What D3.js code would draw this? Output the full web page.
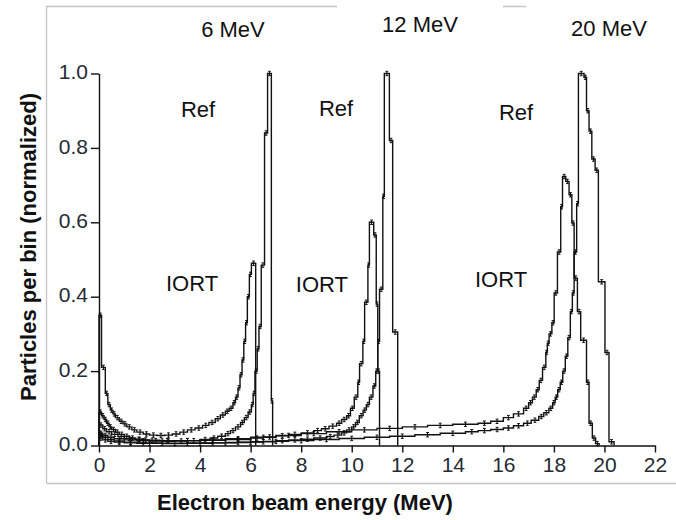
<!DOCTYPE html>
<html><head><meta charset="utf-8">
<script src="https://cdn.jsdelivr.net/npm/d3@7"></script>
<style>
html,body{margin:0;padding:0;background:#fff;}
svg{display:block;font-family:"Liberation Sans",Arial,sans-serif;}
</style></head>
<body>
<svg id="chart" width="676" height="520"></svg>
<script>
// ---- data: each series = [bin lower edge (MeV), normalized count]; last entry marks the upper edge ----
const ref6 = [[0,0.09],[0.1,0.08],[0.2,0.07],[0.3,0.06],[0.4,0.05],[0.5,0.043],[0.65,0.036],[0.8,0.03],[1.0,0.025],[1.2,0.02],[1.45,0.017],[1.7,0.015],[2.0,0.013],[2.5,0.012],[3.0,0.012],[3.5,0.013],[4.0,0.016],[4.4,0.02],[4.7,0.025],[5.0,0.032],[5.2,0.04],[5.4,0.05],[5.6,0.062],[5.75,0.075],[5.9,0.09],[6.03,0.11],[6.1,0.14],[6.17,0.2],[6.26,0.26],[6.33,0.32],[6.42,0.485],[6.55,0.84],[6.67,1.0],[6.82,0.12],[6.87,0]];
const iort6 = [[0,0.35],[0.1,0.21],[0.25,0.14],[0.35,0.11],[0.45,0.095],[0.55,0.085],[0.65,0.075],[0.8,0.065],[0.95,0.058],[1.1,0.05],[1.3,0.042],[1.5,0.036],[1.75,0.031],[2.0,0.028],[2.3,0.027],[2.6,0.028],[2.9,0.031],[3.2,0.036],[3.5,0.042],[3.8,0.047],[4.1,0.054],[4.35,0.062],[4.6,0.072],[4.8,0.082],[5.0,0.092],[5.15,0.1],[5.3,0.115],[5.4,0.13],[5.5,0.155],[5.58,0.19],[5.66,0.23],[5.73,0.28],[5.8,0.33],[5.87,0.4],[5.95,0.46],[6.03,0.49],[6.2,0]];
const ref12 = [[0,0.03],[0.15,0.022],[0.35,0.016],[0.6,0.012],[1.0,0.009],[1.5,0.007],[2.0,0.006],[3.0,0.006],[4.0,0.007],[5.0,0.008],[6.0,0.01],[7.0,0.013],[7.5,0.015],[8.0,0.017],[8.5,0.02],[9.0,0.024],[9.3,0.028],[9.6,0.034],[9.8,0.042],[10.0,0.05],[10.15,0.062],[10.3,0.08],[10.45,0.095],[10.58,0.11],[10.7,0.13],[10.84,0.16],[10.95,0.2],[11.03,0.28],[11.1,0.42],[11.23,0.67],[11.29,1.0],[11.49,0.82],[11.62,0.305],[11.82,0]];
const iort12 = [[0,0.055],[0.15,0.045],[0.3,0.037],[0.5,0.03],[0.75,0.024],[1.0,0.019],[1.4,0.016],[1.8,0.014],[2.4,0.013],[3.0,0.013],[4.0,0.014],[5.0,0.016],[6.0,0.02],[6.5,0.023],[7.0,0.026],[7.5,0.03],[8.0,0.034],[8.5,0.04],[8.8,0.045],[9.1,0.052],[9.4,0.06],[9.6,0.07],[9.8,0.08],[9.95,0.1],[10.1,0.13],[10.24,0.17],[10.31,0.22],[10.44,0.28],[10.51,0.385],[10.64,0.485],[10.7,0.6],[10.87,0.566],[10.97,0.38],[11.03,0.2],[11.1,0]];
const ref20 = [[0,0.02],[0.15,0.015],[0.35,0.011],[0.6,0.009],[1.0,0.007],[1.5,0.006],[2.5,0.005],[3.5,0.006],[4.5,0.007],[5.5,0.009],[6.5,0.011],[7.5,0.013],[8.5,0.016],[9.5,0.019],[10.5,0.022],[11.5,0.025],[12.5,0.029],[13.5,0.033],[14.5,0.037],[15.0,0.04],[15.5,0.043],[16.0,0.047],[16.4,0.053],[16.8,0.06],[17.1,0.068],[17.4,0.078],[17.6,0.088],[17.8,0.1],[17.95,0.115],[18.05,0.13],[18.15,0.15],[18.25,0.17],[18.35,0.2],[18.45,0.24],[18.55,0.29],[18.65,0.36],[18.73,0.41],[18.8,0.52],[18.9,0.65],[18.97,1.0],[19.19,0.99],[19.29,0.9],[19.39,0.845],[19.5,0.77],[19.63,0.74],[19.76,0.44],[20.02,0.25],[20.18,0.01],[20.38,0]];
const iort20 = [[0,0.033],[0.15,0.027],[0.35,0.022],[0.6,0.018],[1.0,0.015],[1.5,0.013],[2.0,0.012],[3.0,0.013],[4.0,0.015],[5.0,0.018],[6.0,0.022],[7.0,0.027],[8.0,0.032],[9.0,0.037],[10.0,0.042],[11.0,0.046],[12.0,0.05],[13.0,0.054],[14.0,0.057],[15.0,0.06],[15.5,0.065],[16.0,0.075],[16.4,0.085],[16.8,0.1],[17.0,0.115],[17.15,0.13],[17.3,0.15],[17.42,0.175],[17.55,0.21],[17.68,0.25],[17.74,0.275],[17.81,0.3],[17.92,0.33],[18.01,0.41],[18.14,0.52],[18.27,0.642],[18.34,0.723],[18.47,0.71],[18.6,0.674],[18.71,0.598],[18.8,0.45],[18.93,0.36],[19.06,0.283],[19.29,0.17],[19.39,0.06],[19.52,0.02],[19.65,0.005],[19.79,0]];

const xTicks = [0,2,4,6,8,10,12,14,16,18,20,22];
const yTicks = [0.0,0.2,0.4,0.6,0.8,1.0];
const energyLabels = [{t:"6 MeV", e:5.3, v:1.098},{t:"12 MeV", e:12.7, v:1.112},{t:"20 MeV", e:20.18, v:1.101}];
const seriesLabels = [{t:"Ref", e:3.92, v:0.883},{t:"Ref", e:9.38, v:0.886},{t:"Ref", e:16.5, v:0.876},
                      {t:"IORT", e:3.68, v:0.415},{t:"IORT", e:8.82, v:0.412},{t:"IORT", e:15.91, v:0.425}];
const xTitle = "Electron beam energy (MeV)";
const yTitle = "Particles per bin (normalized)";

// ---- drawing ----
const svg = d3.select("#chart");
const x = d3.scaleLinear().domain([0,22]).range([99,655]);
const y = d3.scaleLinear().domain([0,1]).range([445.5,73.5]);

// faint frame remnants of the source figure
svg.append("path").attr("d","M46.5,483V6.5H337M503,6.5H526M46.5,483.5H676")
   .attr("fill","none").attr("stroke","#c4c4c4").attr("stroke-width",1.3);

const line = d3.line().x(d=>x(d[0])).y(d=>y(d[1])).curve(d3.curveStepAfter);
const all = [ref20, iort20, ref12, iort12, ref6, iort6];
const g = svg.append("g");
all.forEach(s=>{
  const pts = [[s[0][0],0]].concat(s);
  g.append("path").attr("d",line(pts)).attr("fill","none")
   .attr("stroke","#111").attr("stroke-width",1.4).attr("stroke-linejoin","miter");
  const bars = [];
  for(let i=0;i<s.length-1;i++){
    const xc = (x(s[i][0])+x(s[i+1][0]))/2, yc = y(s[i][1]);
    bars.push(`M${xc},${yc-2.2}V${yc+2.2}M${xc-1.4},${yc-2.2}H${xc+1.4}M${xc-1.4},${yc+2.2}H${xc+1.4}`);
  }
  g.append("path").attr("d",bars.join("")).attr("fill","none").attr("stroke","#111").attr("stroke-width",1);
});

// axes
const xAxis = d3.axisBottom(x).tickValues(xTicks).tickFormat(d3.format("d")).tickSize(7).tickSizeOuter(0).tickPadding(5);
const yAxis = d3.axisLeft(y).tickValues(yTicks).tickFormat(d3.format(".1f")).tickSize(8).tickSizeOuter(0).tickPadding(3);
const gx = svg.append("g").attr("transform",`translate(0,${y(0)})`).call(xAxis);
const gy = svg.append("g").attr("transform",`translate(${x(0)},0)`).call(yAxis);
[gx,gy].forEach(a=>{
  a.select(".domain").attr("stroke","#111").attr("stroke-width",1.4);
  a.selectAll(".tick line").attr("stroke","#111").attr("stroke-width",1.4);
  a.selectAll(".tick text").attr("fill","#262a33").style("font-size","21px").style("font-family","'Liberation Sans',Arial,sans-serif");
});
gy.selectAll(".tick text").attr("dy","0.25em");

// labels
svg.append("g").selectAll("text").data(energyLabels).join("text")
  .attr("x",d=>x(d.e)).attr("y",d=>y(d.v)).attr("text-anchor","middle")
  .style("font-size","22px").attr("fill","#111").text(d=>d.t);
svg.append("g").selectAll("text").data(seriesLabels).join("text")
  .attr("x",d=>x(d.e)).attr("y",d=>y(d.v)).attr("text-anchor","middle")
  .style("font-size","22px").attr("fill","#111").text(d=>d.t);

svg.append("text").attr("x",305).attr("y",510).attr("text-anchor","middle")
  .style("font-size","22px").style("font-weight","bold").attr("fill","#111").text(xTitle);
svg.append("text").attr("transform","translate(36,247) rotate(-90)").attr("text-anchor","middle")
  .style("font-size","22px").style("font-weight","bold").attr("fill","#111").text(yTitle);
</script>
</body></html>
